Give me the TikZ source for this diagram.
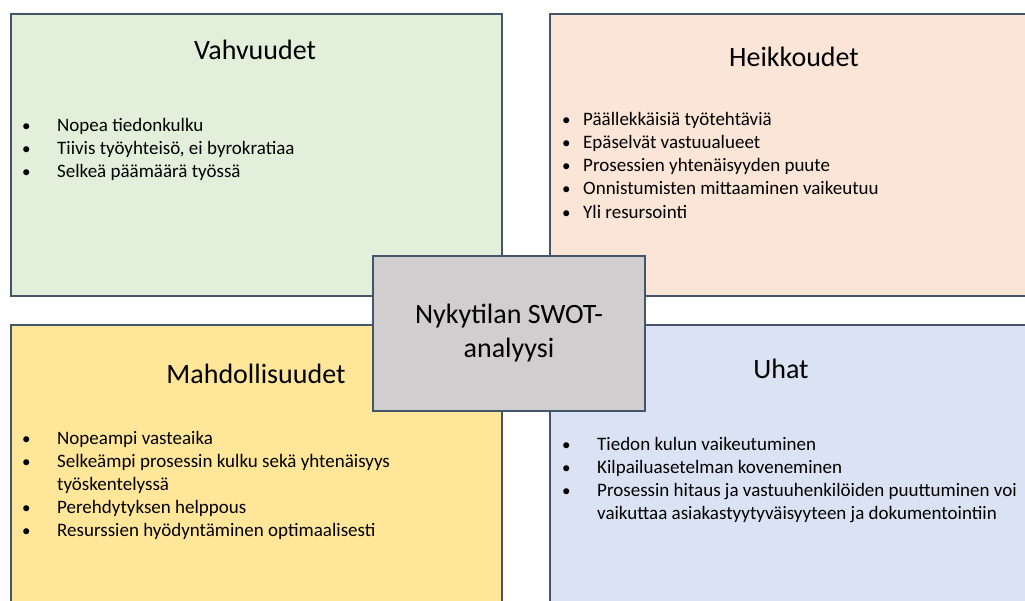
\documentclass[tikz,border=0pt]{standalone}
\usepackage{fontspec}
\setmainfont{Carlito}
\definecolor{edge}{HTML}{44546A}
\definecolor{strengthfill}{HTML}{E2EFDA}
\definecolor{weakfill}{HTML}{FBE5D6}
\definecolor{oppfill}{HTML}{FFE699}
\definecolor{threatfill}{HTML}{DAE3F3}
\definecolor{corefill}{HTML}{D0CECE}
\tikzset{
  quad/.style={draw=edge, line width=2.2pt, anchor=north west, inner sep=0pt,
    minimum width=491pt, minimum height=282pt},
  core/.style={draw=edge, line width=1.8pt, fill=corefill, inner sep=0pt,
    minimum width=272pt, minimum height=155pt, align=center,
    font=\fontsize{28}{34}\selectfont},
  heading/.style={font=\fontsize{28}{34}\selectfont, inner sep=0pt},
  itm/.style={anchor=west, inner sep=0pt, font=\fontsize{19}{23}\selectfont,
    text height=13pt, text depth=4pt, yshift=-2.5pt},
  bul/.style={itm, font=\fontsize{17}{23}\selectfont}
}
\begin{document}
\begin{tikzpicture}[x=1pt,y=-1pt]
\useasboundingbox (0,0) rectangle (1025,601);
\clip (0,0) rectangle (1025,601);
% four quadrants
\node[quad, fill=strengthfill] (vahv) at (10,13) {};
\node[quad, fill=weakfill, minimum height=282pt] (heik) at (549,13) {};
\node[quad, fill=oppfill, minimum height=300pt] (mahd) at (10,324) {};
\node[quad, fill=threatfill, minimum height=300pt] (uhat) at (549,324) {};
% headings
\node[heading] (tv) at (255,50) {Vahvuudet};
\node[heading] (th) at (794,57) {Heikkoudet};
\node[heading] (tm) at (256,374) {Mahdollisuudet};
\node[heading] (tu) at (781,369) {Uhat};
% strengths
\node[bul] (vb1) at (22,125) {•}; \node[itm] (v1) at (57,125) {Nopea tiedonkulku};
\node[bul] (vb2) at (22,148) {•}; \node[itm] (v2) at (57,148) {Tiivis työyhteisö, ei byrokratiaa};
\node[bul] (vb3) at (22,171) {•}; \node[itm] (v3) at (57,171) {Selkeä päämäärä työssä};
% weaknesses
\node[bul] (hb1) at (562,119) {•}; \node[itm] (h1) at (583,119) {Päällekkäisiä työtehtäviä};
\node[bul] (hb2) at (562,142) {•}; \node[itm] (h2) at (583,142) {Epäselvät vastuualueet};
\node[bul] (hb3) at (562,165) {•}; \node[itm] (h3) at (583,165) {Prosessien yhtenäisyyden puute};
\node[bul] (hb4) at (562,188) {•}; \node[itm] (h4) at (583,188) {Onnistumisten mittaaminen vaikeutuu};
\node[bul] (hb5) at (562,212) {•}; \node[itm] (h5) at (583,212) {Yli resursointi};
% opportunities
\node[bul] (mb1) at (22,437) {•}; \node[itm] (m1) at (57,437) {Nopeampi vasteaika};
\node[bul] (mb2) at (22,460) {•}; \node[itm] (m2) at (57,460) {Selkeämpi prosessin kulku sekä yhtenäisyys};
\node[itm] (m2b) at (57,483) {työskentelyssä};
\node[bul] (mb3) at (22,506) {•}; \node[itm] (m3) at (57,506) {Perehdytyksen helppous};
\node[bul] (mb4) at (22,529) {•}; \node[itm] (m4) at (57,529) {Resurssien hyödyntäminen optimaalisesti};
% threats
\node[bul] (ub1) at (562,443) {•}; \node[itm] (u1) at (597,443) {Tiedon kulun vaikeutuminen};
\node[bul] (ub2) at (562,466) {•}; \node[itm] (u2) at (597,466) {Kilpailuasetelman koveneminen};
\node[bul] (ub3) at (562,489) {•}; \node[itm] (u3) at (597,489) {Prosessin hitaus ja vastuuhenkilöiden puuttuminen voi};
\node[itm] (u3b) at (597,512) {vaikuttaa asiakastyytyväisyyteen ja dokumentointiin};
% centre label
\node[core] (swot) at (509,333.5) {Nykytilan SWOT-\\analyysi};
\end{tikzpicture}
\end{document}
